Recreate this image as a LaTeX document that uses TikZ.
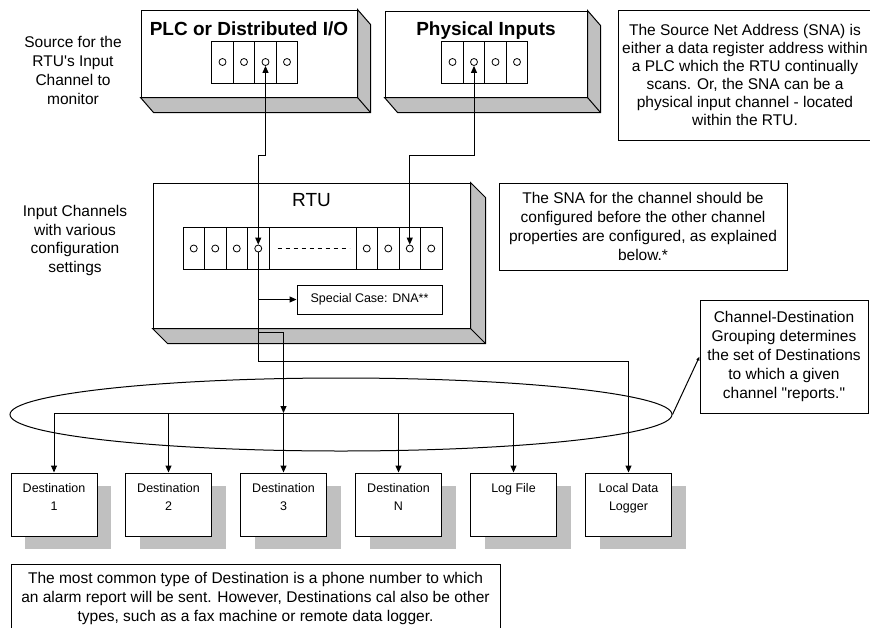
\documentclass[tikz,border=0pt]{standalone}
\usepackage{fontspec}
\setmainfont{Liberation Sans}[Ligatures=TeXOff]
\usetikzlibrary{shapes,arrows.meta,positioning,shadows,calc}
\definecolor{slabgray}{RGB}{192,192,192}

\tikzset{
  slab/.style={rectangle, draw, fill=white, inner sep=0pt},
  slabtitle/.style={anchor=north, inner sep=0pt, font=\fontsize{19}{22}\selectfont},
  cell/.style={rectangle, draw, fill=white, minimum width=21.5pt, minimum height=42pt, inner sep=0pt},
  port/.style={circle, draw, line width=0.8pt, minimum size=7pt, inner sep=0pt},
  note/.style={rectangle, draw, fill=white, align=center, inner sep=0pt, font=\fontsize{15.5}{19}\selectfont},
  sidetext/.style={align=center, inner sep=0pt, font=\fontsize{15.5}{18.7}\selectfont},
  destbox/.style={rectangle, draw, fill=white, minimum width=86pt, minimum height=63pt, inner sep=0pt,
    drop shadow={shadow xshift=14pt, shadow yshift=-13pt, fill=slabgray, draw=none, opacity=1}},
  destlbl/.style={anchor=north, align=center, inner sep=0pt, yshift=-10pt, font=\fontsize{12.5}{18}\selectfont},
  arr/.style={-{Triangle[length=7pt,width=6pt]}},
  biarr/.style={{Triangle[length=7pt,width=6pt]}-{Triangle[length=7pt,width=6pt]}},
}

\begin{document}
\begin{tikzpicture}[x=1pt, y=-1pt, line width=1pt]
  \clip (0,0) rectangle (870,627);
  \fill[white] (0,0) rectangle (870,627);

  % sources and RTU
  \node[slab, minimum width=216pt, minimum height=87pt,
    label={[slabtitle, font=\bfseries\fontsize{19}{22}\selectfont, yshift=-12pt]north:PLC or Distributed I/O}] (plc) at (249,53.5) {};
  \node[slab, minimum width=202pt, minimum height=86pt,
    label={[slabtitle, font=\bfseries\fontsize{19}{22}\selectfont, yshift=-11pt]north:Physical Inputs}] (phys) at (486,54) {};
  \node[slab, minimum width=317pt, minimum height=145pt,
    label={[slabtitle, yshift=-10pt]north:RTU}] (rtu) at (311.5,255.5) {};

  \foreach \b/\dx in {plc/13,phys/13,rtu/15} {
    \filldraw[fill=slabgray] (\b.north east) -- ++(\dx,15) -- ($(\b.south east)+(\dx,15)$)
      -- ($(\b.south west)+(\dx,15)$) -- (\b.south west) -- (\b.south east) -- cycle;
    \draw (\b.south east) -- ++(\dx,15);
  }

  % channel strips
  \foreach \i in {1,...,4} {
    \node[cell] (plcc\i) at ({201+21.5*\i},62) {};
    \node[port] (plcp\i) at (plcc\i) {};
    \node[cell] (physc\i) at ({431+21.5*\i},62) {};
    \node[port] (physp\i) at (physc\i) {};
    \node[cell] (rtuc\i) at ({172.25+21.5*\i},248.5) {};
    \node[port] (rtup\i) at (rtuc\i) {};
  }
  \foreach \i in {5,...,8} {
    \node[cell] (rtuc\i) at ({259.25+21.5*\i},248.5) {};
    \node[port] (rtup\i) at (rtuc\i) {};
  }
  \node[cell, minimum width=87pt] (rtugap) at (312.5,248.5) {};
  \draw[dash pattern=on 4pt off 4pt] ([xshift=9pt]rtugap.west) -- ([xshift=-7pt]rtugap.east);

  \node[rectangle, draw, fill=white, minimum width=145pt, minimum height=29pt, inner sep=0pt,
    font=\fontsize{12.5}{15}\selectfont] (special) at (369.5,299.5) {Special Case: DNA**};

  % side texts and notes
  \node[sidetext] (srctext) at (73,70.5) {Source for the\\RTU's Input\\Channel to\\monitor};
  \node[sidetext] (chtext) at (75,240.5) {Input Channels\\with various\\configuration\\settings};

  \node[note, minimum width=254pt, minimum height=130pt, font=\fontsize{15.5}{18}\selectfont] (snanote) at (745,75)
    {The Source Net Address (SNA) is\\either a data register address within\\a PLC which the RTU continually\\scans. Or, the SNA can be a\\physical input channel - located\\within the RTU.};
  \node[note, minimum width=288pt, minimum height=87pt] (chnote) at (643,226.5)
    {The SNA for the channel should be\\configured before the other channel\\properties are configured, as explained\\below.*};
  \node[note, minimum width=168pt, minimum height=113pt] (cdnote) at (784,356.5)
    {Channel-Destination\\Grouping determines\\the set of Destinations\\to which a given\\channel "reports."};
  \node[note, minimum width=489pt, minimum height=75pt] (destnote) at (255.5,601.5) {};
  \node[align=center, inner sep=0pt, font=\fontsize{15.5}{19}\selectfont] (desttext) at (255.5,598.5)
    {The most common type of Destination is a phone number to which\\an alarm report will be sent. However, Destinations cal also be other\\types, such as a fax machine or remote data logger.};

  % destinations
  \node[destbox, label={[destlbl]north:{Destination\\1}}] (dest1) at (54,504.5) {};
  \node[destbox, label={[destlbl]north:{Destination\\2}}] (dest2) at (168.5,504.5) {};
  \node[destbox, label={[destlbl]north:{Destination\\3}}] (dest3) at (283.5,504.5) {};
  \node[destbox, label={[destlbl]north:{Destination\\N}}] (destN) at (398.5,504.5) {};
  \node[destbox, label={[destlbl]north:{Log File}}] (logfile) at (513.5,504.5) {};
  \node[destbox, label={[destlbl]north:{Local Data\\Logger}}] (logger) at (628.5,504.5) {};

  \node[ellipse, draw, minimum width=662pt, minimum height=73pt, inner sep=0pt] (group) at (341,414.5) {};

  % connectors
  \coordinate (grp) at (0,413);
  \draw[biarr] (plcp3.south) -- ++(0,90) -| (rtup4.north);
  \draw[biarr] (physp2.south) -- ++(0,90) -| (rtup7.north);
  \draw[arr] (rtup4.south) -- (rtup4 |- 0,361) -| (logger.north);
  \draw[arr] (rtup4 |- special) -- (special);
  \draw[arr] (rtup4 |- 0,332) -| (dest3 |- grp);
  \draw (dest1 |- grp) -- (logfile |- grp);
  \foreach \dst in {dest1,dest2,dest3,destN,logfile}
    \draw[arr] (\dst |- grp) -- (\dst.north);
  \draw[-{Latex[length=4pt,width=3.5pt]}] (group.east) -- (cdnote.west);
\end{tikzpicture}
\end{document}
